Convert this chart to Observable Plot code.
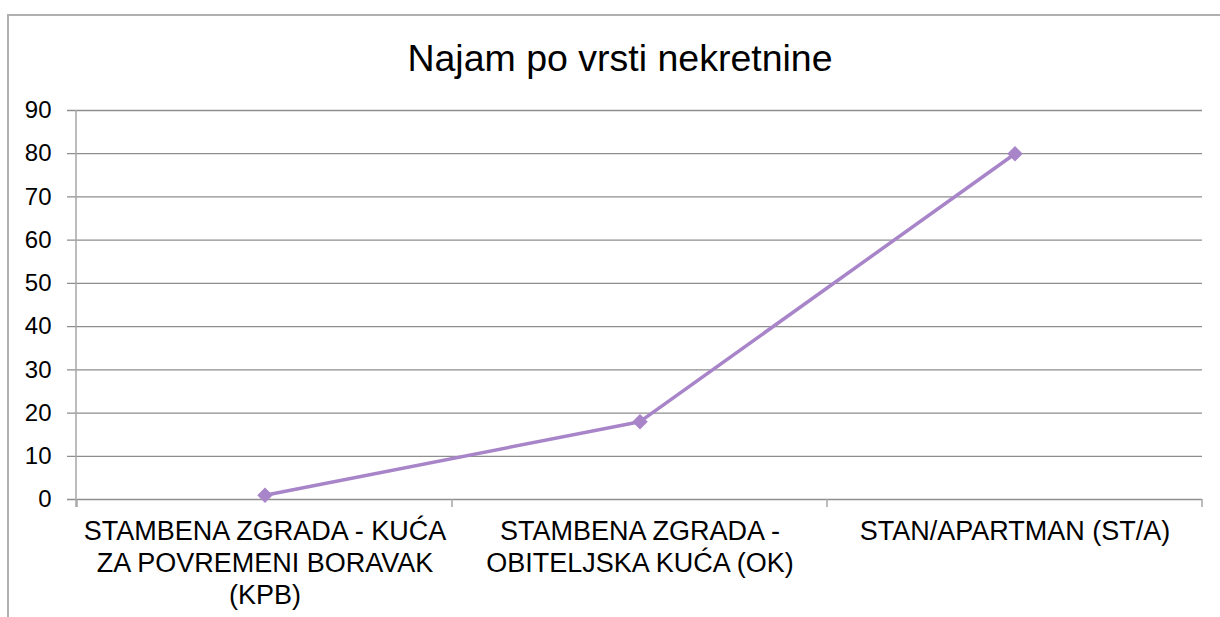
<!DOCTYPE html>
<html>
<head>
<meta charset="utf-8">
<script src="https://cdn.jsdelivr.net/npm/d3@7"></script>
<script src="https://cdn.jsdelivr.net/npm/@observablehq/plot@0.6"></script>
<style>
  html, body { margin: 0; padding: 0; background: #fff; }
  #wrap { position: relative; width: 1220px; height: 617px; overflow: hidden; font-family: "Liberation Sans", Arial, sans-serif; }
  #border { position: absolute; left: 7px; top: 14px; width: 1230px; height: 640px; border-left: 2px solid #b0b0b0; border-top: 2px solid #b0b0b0; box-sizing: border-box; }
  #title { position: absolute; left: 0; width: 1240px; top: 40px; text-align: center; font-size: 37.5px; color: #000; line-height: 1; }
  #chart { position: absolute; left: 0; top: 0; }
</style>
</head>
<body>
<div id="wrap">
  <div id="border"></div>
  <div id="title">Najam po vrsti nekretnine</div>
  <div id="chart"></div>
</div>
<script>
const title = "Najam po vrsti nekretnine";
const categories = [
  "STAMBENA ZGRADA - KUĆA ZA POVREMENI BORAVAK (KPB)",
  "STAMBENA ZGRADA - OBITELJSKA KUĆA (OK)",
  "STAN/APARTMAN (ST/A)"
];
const categoryLabels = [
  "STAMBENA ZGRADA - KUĆA\nZA POVREMENI BORAVAK\n(KPB)",
  "STAMBENA ZGRADA -\nOBITELJSKA KUĆA (OK)",
  "STAN/APARTMAN (ST/A)"
];
const values = [1, 18, 80];
const yTicks = [0, 10, 20, 30, 40, 50, 60, 70, 80, 90];

const data = categories.map((c, i) => ({cat: c, label: categoryLabels[i], value: values[i]}));

const lineColor = "#a885c9";
const gridColor = "#8e8e8e";
const axisColor = "#a6a6a6";

// axis decorations: vertical axis line and category boundary ticks
function axisDecor(index, scales, values, dims) {
  const g = d3.create("svg:g");
  const x = scales.x;
  const y0 = dims.height - dims.marginBottom;
  const yTop = dims.marginTop;
  g.append("line")
    .attr("x1", dims.marginLeft).attr("x2", dims.marginLeft)
    .attr("y1", yTop).attr("y2", y0 + 8)
    .attr("stroke", axisColor).attr("stroke-width", 1.5);
  const doms = x.domain();
  const bounds = doms.map(d => x(d)).concat([x(doms[doms.length - 1]) + x.bandwidth()]);
  bounds.forEach(b => {
    g.append("line")
      .attr("x1", b).attr("x2", b)
      .attr("y1", y0).attr("y2", y0 + 8)
      .attr("stroke", axisColor).attr("stroke-width", 1.5);
  });
  return g.node();
}

const chart = Plot.plot({
  width: 1220,
  height: 617,
  marginLeft: 76,
  marginRight: 18,
  marginTop: 110,
  marginBottom: 118,
  style: {fontFamily: "'Liberation Sans', Arial, sans-serif", background: "transparent", color: "#000"},
  x: {type: "band", domain: categories, padding: 0, axis: null},
  y: {domain: [0, 90], axis: null},
  marks: [
    Plot.ruleY(yTicks, {stroke: gridColor, strokeWidth: 1.3, insetLeft: -9}),
    axisDecor,
    Plot.axisY({ticks: yTicks, tickSize: 0, tickPadding: 25, fontSize: 24, label: null, fill: "#000"}),
    Plot.text(data, {x: "cat", text: "label", frameAnchor: "bottom", lineAnchor: "top", dy: 17, fontSize: 27, lineHeight: 1.2, fill: "#000"}),
    Plot.line(data, {x: "cat", y: "value", stroke: lineColor, strokeWidth: 3.5}),
    Plot.dot(data, {x: "cat", y: "value", symbol: "diamond2", r: 7, fill: lineColor, stroke: "none"})
  ]
});
document.getElementById("chart").appendChild(chart);
</script>
</body>
</html>
